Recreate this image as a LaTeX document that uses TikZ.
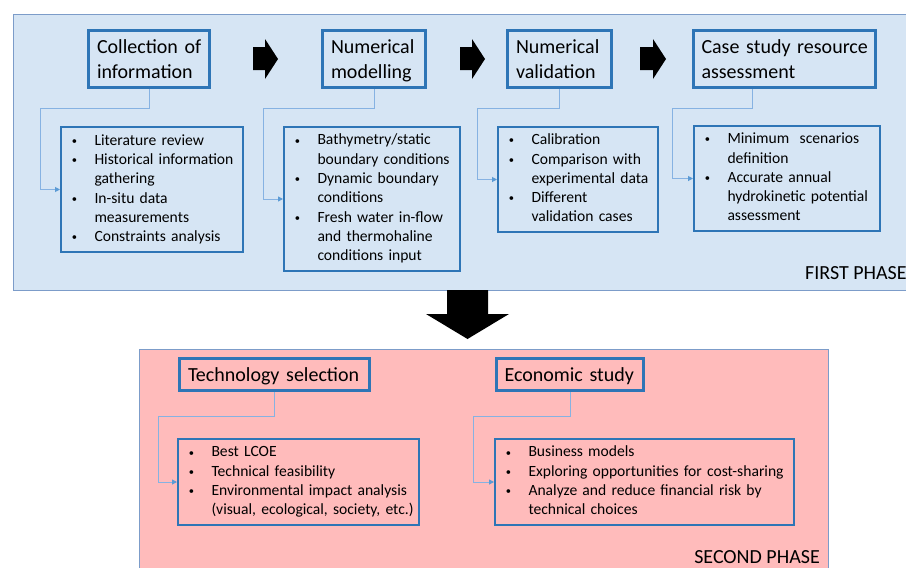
\documentclass[tikz,border=0pt]{standalone}
\usepackage{fontspec}
\setmainfont{Carlito}
\usetikzlibrary{arrows.meta}

\definecolor{panelblue}{HTML}{D6E5F4}
\definecolor{panelpink}{HTML}{FFBBBB}
\definecolor{panelline}{HTML}{7C9CC9}
\definecolor{boxblue}{HTML}{2E75B6}
\definecolor{linkblue}{HTML}{86B2E2}
\definecolor{tipblue}{HTML}{5B9BD5}

\newcommand\headfont{\fontsize{20}{25}\selectfont}
\newcommand\listfont{\fontsize{15.6}{19.3}\selectfont}
\newcommand\firstrow{\rule{0pt}{21pt}}
\newcommand\headtext[1]{\begin{tabular}{@{}l@{}}\firstrow#1\end{tabular}}
\newcommand\itemlist[1]{\begin{tabular}{@{}p{23.5pt}@{}l@{}}#1\end{tabular}}
\newcommand\bul{\hspace*{0.8pt}\raisebox{0.8pt}{\fontsize{10.5}{10.5}\selectfont\textbullet}}

\tikzset{
  panel/.style={draw=panelline, line width=1pt},
  headbox/.style={draw=boxblue, line width=3pt, inner sep=0pt, font=\headfont, align=left},
  listbox/.style={draw=boxblue, line width=1.8pt, inner sep=0pt, font=\listfont, align=left},
  link/.style={draw=linkblue, line width=1pt, -{Triangle[length=5pt,width=5pt,color=tipblue]}},
  blockarrow/.style={fill=black},
  phase/.style={font=\fontsize{20}{24}\selectfont, inner sep=0pt}
}

\begin{document}
\begin{tikzpicture}[x=1pt, y=-1pt]
\useasboundingbox (0,0) rectangle (906,568);
\fill[white] (0,0) rectangle (906,568);

% phase panels
\path[panel, fill=panelblue] (13,14) rectangle (920,290.5);
\path[panel, fill=panelpink] (139.5,349.5) rectangle (828.5,590);

% first phase: step headers
\node[headbox, minimum width=121pt, minimum height=57.5pt, text width=104pt] (h1) at (149,58.75)
  {\headtext{Collection of\\information}};
\node[headbox, minimum width=103pt, minimum height=57.5pt, text width=86pt] (h2) at (374,58.75)
  {\headtext{Numerical\\modelling}};
\node[headbox, minimum width=104pt, minimum height=57.5pt, text width=87pt] (h3) at (559.5,58.75)
  {\headtext{Numerical\\validation}};
\node[headbox, minimum width=182pt, minimum height=57.5pt, text width=166pt] (h4) at (784.5,58.75)
  {\headtext{Case study resource\\assessment}};

% first phase: task lists
\node[listbox, minimum width=182.2pt, minimum height=125.2pt, text width=162pt] (d1) at (152,189.5)
  {\itemlist{\bul & Literature review\\ \bul & Historical information\\ & gathering\\ \bul & In-situ data\\ & measurements\\ \bul & Constraints analysis}};
\node[listbox, minimum width=176.2pt, minimum height=144.2pt, text width=156pt] (d2) at (372,199)
  {\itemlist{\bul & Bathymetry/static\\ & boundary conditions\\ \bul & Dynamic boundary\\ & conditions\\ \bul & Fresh water in-flow\\ & and thermohaline\\ & conditions input}};
\node[listbox, minimum width=160.2pt, minimum height=105.2pt, text width=140pt] (d3) at (578,179.5)
  {\itemlist{\bul & Calibration\\ \bul & Comparison with\\ & experimental data\\ \bul & Different\\ & validation cases}};
\node[listbox, minimum width=186.2pt, minimum height=105.2pt, text width=166pt] (d4) at (787,178.5)
  {\itemlist{\bul & Minimum~ scenarios\\ & definition\\ \bul & Accurate annual\\ & hydrokinetic potential\\ & assessment}};

% block arrows between steps
\fill[blockarrow] (253,47) -- (265,47) -- (265,39) -- (278,59) -- (265,79) -- (265,70) -- (253,70) -- cycle;
\fill[blockarrow] (460,47) -- (472,47) -- (472,39) -- (485,59) -- (472,79) -- (472,70) -- (460,70) -- cycle;
\fill[blockarrow] (640,47) -- (653,47) -- (653,39) -- (666,59) -- (653,79) -- (653,70) -- (640,70) -- cycle;

% links from headers to task lists
\draw[link] (h1.south) -- ++(0,19.5) -| ([xshift=-20pt]d1.west) -- (d1.west);
\draw[link] (h2.south) -- ++(0,19.5) -| ([xshift=-20pt]d2.west) -- (d2.west);
\draw[link] (h3.south) -- ++(0,19.5) -| ([xshift=-20pt]d3.west) -- (d3.west);
\draw[link] ([xshift=-32.5pt]h4.south) -- ++(0,19) -| ([xshift=-21pt]d4.west) -- (d4.west);

\node[phase, anchor=base west] (p1) at (805,279) {FIRST PHASE};

% transition to second phase
\fill[blockarrow] (447,290) -- (488,290) -- (488,314) -- (509,314) -- (467.5,339) -- (426,314) -- (447,314) -- cycle;

% second phase
\node[headbox, minimum width=190pt, minimum height=32pt, text width=173pt] (t1) at (274.5,374.5)
  {\headtext{Technology selection}};
\node[headbox, minimum width=147pt, minimum height=32pt, text width=131pt] (t2) at (570,374.5)
  {\headtext{Economic study}};

\node[listbox, minimum width=241.2pt, minimum height=86.2pt, text width=221pt] (da) at (298.5,482)
  {\itemlist{\bul & Best LCOE\\ \bul & Technical feasibility\\ \bul & Environmental impact analysis\\ & (visual, ecological, society, etc.)}};
\node[listbox, minimum width=299.2pt, minimum height=86.2pt, text width=279pt] (db) at (644.5,482)
  {\itemlist{\bul & Business models\\ \bul & Exploring opportunities for cost-sharing\\ \bul & Analyze and reduce financial risk by\\ & technical choices}};

\draw[link] (t1.south) -- ++(0,24.5) -| ([xshift=-19pt]da.west) -- (da.west);
\draw[link] (t2.south) -- ++(0,24.5) -| ([xshift=-21pt]db.west) -- (db.west);

\node[phase, anchor=base east] (p2) at (820,563) {SECOND PHASE};
\end{tikzpicture}
\end{document}
